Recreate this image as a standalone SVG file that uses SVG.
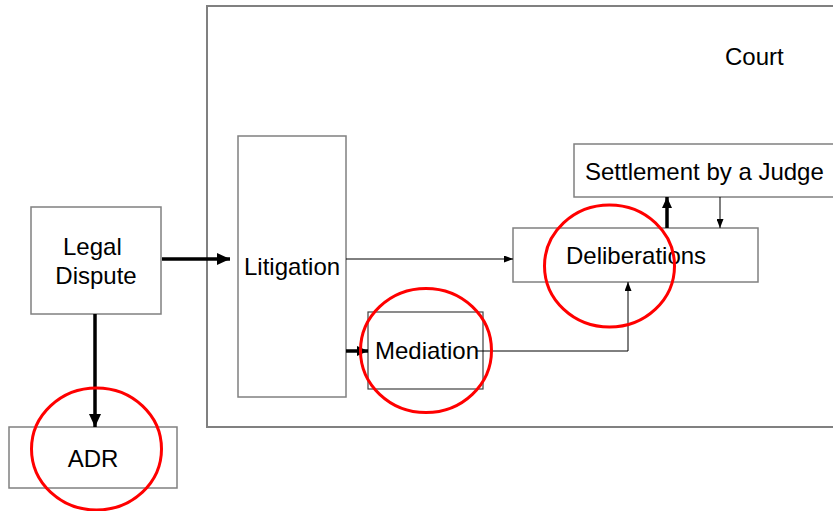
<svg xmlns="http://www.w3.org/2000/svg" width="833" height="511" viewBox="0 0 833 511">
  <style>
    .box { fill: #ffffff; stroke: #808080; stroke-width: 1.5; }
    .frame { fill: #ffffff; stroke: #808080; stroke-width: 2; }
    .label { font-family: "Liberation Sans", Arial, sans-serif; font-size: 24px; fill: #000000; }
    .thick { stroke: #000000; stroke-width: 3.5; fill: none; }
    .thin { stroke: #000000; stroke-width: 1; fill: none; }
    .ring { fill: none; stroke: #ff0000; stroke-width: 3; }
  </style>
  <defs>
    <marker id="bigHead" markerUnits="userSpaceOnUse" markerWidth="13" markerHeight="12" refX="13" refY="6" orient="auto">
      <path d="M0,0 L13,6 L0,12 Z" fill="#000000"/>
    </marker>
    <marker id="smallHead" markerUnits="userSpaceOnUse" markerWidth="9" markerHeight="7" refX="9" refY="3.5" orient="auto">
      <path d="M0,0 L9,3.5 L0,7 Z" fill="#000000"/>
    </marker>
    <marker id="midHead" markerUnits="userSpaceOnUse" markerWidth="11" markerHeight="10" refX="11" refY="5" orient="auto">
      <path d="M0,0 L11,5 L0,10 Z" fill="#000000"/>
    </marker>
  </defs>

  <rect width="833" height="511" fill="#ffffff"/>

  <!-- Court container -->
  <g id="court">
    <rect class="frame" x="207" y="6" width="640" height="421"/>
    <text class="label" x="725" y="65">Court</text>
  </g>

  <g id="legal-dispute">
    <rect class="box" x="31" y="207" width="130" height="107"/>
    <text class="label" x="63" y="255">Legal</text>
    <text class="label" x="96" y="284" text-anchor="middle">Dispute</text>
  </g>

  <g id="adr">
    <rect class="box" x="9" y="427" width="168" height="61"/>
    <text class="label" x="93" y="467" text-anchor="middle">ADR</text>
  </g>

  <g id="litigation">
    <rect class="box" x="238" y="136" width="108" height="261"/>
    <text class="label" x="244" y="275">Litigation</text>
  </g>

  <g id="mediation">
    <rect x="368" y="312" width="115" height="77" fill="#ffffff" stroke="#404040" stroke-width="1.2"/>
    <text class="label" x="375" y="359">Mediation</text>
  </g>

  <g id="deliberations">
    <rect class="box" x="513" y="228" width="245" height="54"/>
    <text class="label" x="566" y="264">Deliberations</text>
  </g>

  <g id="settlement">
    <rect class="box" x="574" y="144" width="280" height="53"/>
    <text class="label" x="585" y="180">Settlement by a Judge</text>
  </g>

  <!-- Connectors -->
  <g id="connectors">
    <line class="thick" x1="162" y1="259" x2="230" y2="259" marker-end="url(#bigHead)"/>
    <line class="thick" x1="95" y1="314" x2="95" y2="427" marker-end="url(#bigHead)"/>
    <line class="thin" x1="346" y1="259" x2="513" y2="259" marker-end="url(#smallHead)"/>
    <line class="thick" x1="346" y1="351" x2="368" y2="351" marker-end="url(#midHead)"/>
    <polyline class="thin" points="477,351 628,351 628,282" marker-end="url(#smallHead)"/>
    <line class="thick" x1="667" y1="228" x2="667" y2="197" marker-end="url(#midHead)"/>
    <line class="thin" x1="720" y1="197" x2="720" y2="228" marker-end="url(#smallHead)"/>
  </g>

  <!-- Highlight rings -->
  <g id="highlights">
    <ellipse class="ring" cx="96.5" cy="449" rx="65" ry="61"/>
    <ellipse class="ring" cx="426" cy="350.5" rx="65.5" ry="62"/>
    <ellipse class="ring" cx="609.5" cy="266" rx="65" ry="61"/>
  </g>
</svg>
